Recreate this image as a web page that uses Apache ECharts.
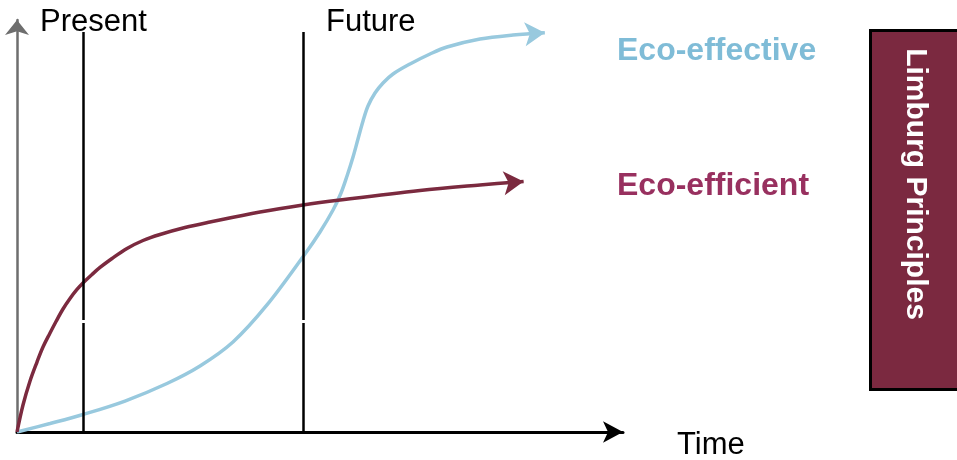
<!DOCTYPE html>
<html>
<head>
<meta charset="utf-8">
<script src="https://cdn.jsdelivr.net/npm/echarts@6/dist/echarts.min.js"></script>
<style>
html,body{margin:0;padding:0;background:#fff;}
#chart{width:957px;height:460px;}
</style>
</head>
<body>
<div id="chart"></div>
<script>
// Time axis runs 0..100, performance axis 0..100 (arbitrary units)
var effectiveTime  = [0, 5.45, 10.89, 17.82, 24.75, 30.20, 35.64, 41.25, 47.52, 50.00, 52.15, 53.47, 54.46, 55.45, 56.27, 57.10, 57.92, 59.08, 60.40, 62.05, 64.85, 68.15, 70.96, 76.40, 81.85, 87.1];
var effectiveValue = [0, 2.06, 4.25, 7.52, 11.77, 16.02, 21.84, 30.83, 43.20, 48.54, 53.88, 58.01, 62.14, 66.75, 71.12, 75.49, 79.13, 82.28, 84.71, 86.89, 89.32, 91.75, 93.45, 95.39, 96.36, 96.9];
var efficientTime  = [0, 0.99, 2.15, 3.30, 4.29, 5.45, 6.44, 7.59, 8.75, 9.90, 10.89, 12.38, 13.70, 15.68, 18.15, 20.79, 23.60, 27.72, 31.85, 40.10, 47.19, 53.30, 66.50, 76.40, 83.6];
var efficientValue = [0, 6.55, 12.38, 16.99, 20.63, 24.03, 26.82, 29.85, 32.40, 34.59, 36.17, 38.23, 39.93, 42.11, 44.54, 46.48, 47.94, 49.64, 50.97, 53.40, 55.10, 56.31, 58.62, 59.95, 60.8];
var markerTimes = [10.89, 47.19];      // "Present" and "Future"
var markerTop = 97.1;
var markerGap = [26.46, 27.18];
var labels = {present: 'Present', future: 'Future', time: 'Time', effective: 'Eco-effective', efficient: 'Eco-efficient', box: 'Limburg Principles'};

function pairs(xs, ys, arrowRotate, color) {
  return xs.map(function (x, i) {
    var item = {value: [x, ys[i]], symbol: 'none'};
    if (i === xs.length - 1) {
      item.symbol = 'arrow';
      item.symbolSize = [18, 20];
      item.symbolRotate = arrowRotate;
      item.itemStyle = {color: color};
    }
    return item;
  });
}

var segs = [];
markerTimes.forEach(function (t) {
  segs.push([{coord: [t, 0]}, {coord: [t, markerGap[0]]}]);
  segs.push([{coord: [t, markerGap[1]]}, {coord: [t, markerTop]}]);
});

var FONT = '"Liberation Sans", Arial, sans-serif';
var chart = echarts.init(document.getElementById('chart'), null, {renderer: 'canvas'});
chart.setOption({
  animation: false,
  backgroundColor: '#ffffff',
  grid: {left: 17, right: 334, top: 20, bottom: 28, containLabel: false},
  xAxis: {
    type: 'value', min: 0, max: 100,
    axisLine: {show: true, symbol: ['none', 'arrow'], symbolSize: [16, 20], lineStyle: {color: '#000', width: 3}},
    axisTick: {show: false}, axisLabel: {show: false}, splitLine: {show: false}
  },
  yAxis: {
    type: 'value', min: 0, max: 100,
    axisLine: {show: true, symbol: ['none', 'arrow'], symbolSize: [18, 15], lineStyle: {color: '#6e6e6e', width: 2.5}},
    axisTick: {show: false}, axisLabel: {show: false}, splitLine: {show: false}
  },
  series: [
    {
      name: 'Eco-effective', type: 'line', smooth: 0.35,
      data: pairs(effectiveTime, effectiveValue, -86, '#98c9de'),
      showAllSymbol: true,
      lineStyle: {color: '#98c9de', width: 3.5},
      itemStyle: {color: '#98c9de'}, z: 2
    },
    {
      name: 'Eco-efficient', type: 'line', smooth: 0.35,
      data: pairs(efficientTime, efficientValue, -85, '#7b2a3f'),
      showAllSymbol: true,
      lineStyle: {color: '#7b2a3f', width: 3.5},
      itemStyle: {color: '#7b2a3f'}, z: 3
    },
    {
      name: 'markers', type: 'line', data: [], z: 5,
      markLine: {
        silent: true, symbol: ['none', 'none'], label: {show: false},
        lineStyle: {color: '#000', width: 2.5, type: 'solid'},
        data: segs
      }
    }
  ],
  graphic: [
    {type: 'text', style: {text: labels.present, x: 40, y: 22, fill: '#000', font: '31px ' + FONT, align: 'left', verticalAlign: 'middle'}},
    {type: 'text', style: {text: labels.future, x: 326, y: 22, fill: '#000', font: '31px ' + FONT, align: 'left', verticalAlign: 'middle'}},
    {type: 'text', style: {text: labels.time, x: 677, y: 445, fill: '#000', font: '31px ' + FONT, align: 'left', verticalAlign: 'middle'}},
    {type: 'text', style: {text: labels.effective, x: 617, y: 51, fill: '#7fbcd7', font: 'bold 32px ' + FONT, align: 'left', verticalAlign: 'middle'}},
    {type: 'text', style: {text: labels.efficient, x: 617, y: 186, fill: '#98305f', font: 'bold 32px ' + FONT, align: 'left', verticalAlign: 'middle'}},
    {type: 'rect', shape: {x: 870.5, y: 30.5, width: 110, height: 359}, style: {fill: '#7b2940', stroke: '#000', lineWidth: 3}},
    {type: 'text', x: 915, y: 184, rotation: -Math.PI / 2,
     style: {text: labels.box, x: 0, y: 0, fill: '#ffffff', font: 'bold 30px ' + FONT, align: 'center', verticalAlign: 'middle'}}
  ]
});
</script>
</body>
</html>
